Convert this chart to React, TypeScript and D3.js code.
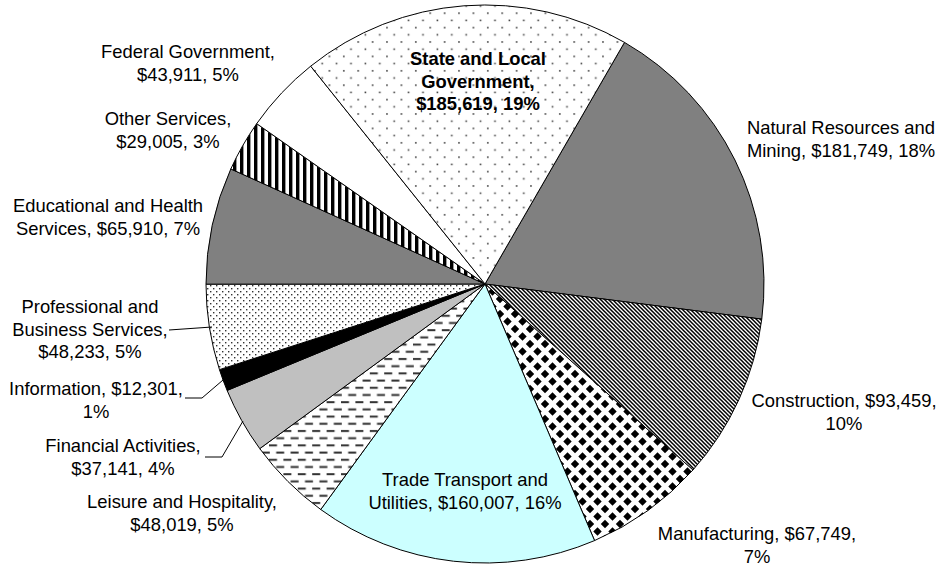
import React from 'react';
import * as d3 from 'd3';

const categories = [
  'Natural Resources and Mining',
  'Construction',
  'Manufacturing',
  'Trade Transport and Utilities',
  'Leisure and Hospitality',
  'Financial Activities',
  'Information',
  'Professional and Business Services',
  'Educational and Health Services',
  'Other Services',
  'Federal Government',
  'State and Local Government',
];
const values = [181749, 93459, 67749, 160007, 48019, 37141, 12301, 48233, 65910, 29005, 43911, 185619];
const percents = [18, 10, 7, 16, 5, 4, 1, 5, 7, 3, 5, 19];

const labelLines = [
  ['Natural Resources and', 'Mining, $181,749, 18%'],
  ['Construction, $93,459,', '10%'],
  ['Manufacturing, $67,749,', '7%'],
  ['Trade Transport and', 'Utilities, $160,007, 16%'],
  ['Leisure and Hospitality,', '$48,019, 5%'],
  ['Financial Activities,', '$37,141, 4%'],
  ['Information, $12,301,', '1%'],
  ['Professional and', 'Business Services,', '$48,233, 5%'],
  ['Educational and Health', 'Services, $65,910, 7%'],
  ['Other Services,', '$29,005, 3%'],
  ['Federal Government,', '$43,911, 5%'],
  ['State and Local', 'Government,', '$185,619, 19%'],
];

// layout (not data)
const W = 941;
const H = 567;
const CX = 485;
const CY = 284;
const R = 279;
const START = Math.PI / 6;
const FONT = 18.4;
const LINE = 22.6;
const labelPos: [number, number][] = [
  [841, 134],
  [844, 407],
  [757, 540],
  [465, 486],
  [182, 508],
  [123, 452],
  [96, 395],
  [90, 313],
  [108, 212],
  [168, 125],
  [188, 58],
  [478, 65],
];
const leaders: ([number, number][] | null)[] = [
  null, null, null, null, null,
  [[205, 457], [222, 457], [243, 421]],
  [[185, 398], [202, 398], [223, 380]],
  [[169, 330], [212, 327]],
  null, null, null, null,
];
const fills = [
  '#808080',
  'url(#pDiag)',
  'url(#pDiamond)',
  '#CCFFFF',
  'url(#pDash)',
  '#C0C0C0',
  '#000000',
  'url(#pDots20)',
  '#808080',
  'url(#pVert)',
  '#FFFFFF',
  'url(#pDots5)',
];

function diamond(cx: number, cy: number, r: number) {
  return `M${cx},${cy - r} L${cx + r},${cy} L${cx},${cy + r} L${cx - r},${cy} Z`;
}

export default function App() {
  const pie = d3
    .pie<number>()
    .sort(null)
    .value((d) => d)
    .startAngle(START)
    .endAngle(START + 2 * Math.PI);
  const arcs = pie(values);
  const arc = d3.arc<d3.PieArcDatum<number>>().innerRadius(0).outerRadius(R);
  const line = d3.line();
  const P = 15;
  const dr = 4.2;
  const diamondPath = [
    diamond(P / 2, P / 2, dr),
    diamond(0, 0, dr),
    diamond(P, 0, dr),
    diamond(0, P, dr),
    diamond(P, P, dr),
  ].join(' ');

  return (
    <svg
      width={W}
      height={H}
      style={{ position: 'absolute', left: 0, top: 0, background: '#fff' }}
      fontFamily="'Liberation Sans', Arial, sans-serif"
    >
      <defs>
        <pattern id="pDiag" patternUnits="userSpaceOnUse" width={4} height={4}>
          <rect width={4} height={4} fill="#fff" />
          <path d="M-1,-1 L5,5 M-1,3 L1,5 M3,-1 L5,1" stroke="#000" strokeWidth={1.5} />
        </pattern>
        <pattern id="pDiamond" patternUnits="userSpaceOnUse" width={P} height={P}>
          <rect width={P} height={P} fill="#fff" />
          <path d={diamondPath} fill="#000" />
        </pattern>
        <pattern id="pDash" patternUnits="userSpaceOnUse" width={14.4} height={14.4}>
          <rect width={14.4} height={14.4} fill="#fff" />
          <rect x={0} y={2} width={8} height={2} fill="#333" />
          <rect x={7.2} y={9.2} width={8} height={2} fill="#333" />
          <rect x={-7.2} y={9.2} width={8} height={2} fill="#333" />
        </pattern>
        <pattern id="pDots20" patternUnits="userSpaceOnUse" width={6} height={6}>
          <rect width={6} height={6} fill="#fff" />
          <rect x={1} y={1} width={1.4} height={1.4} fill="#333" />
          <rect x={4} y={4} width={1.4} height={1.4} fill="#333" />
        </pattern>
        <pattern id="pVert" patternUnits="userSpaceOnUse" width={7} height={7}>
          <rect width={7} height={7} fill="#fff" />
          <rect x={0} y={0} width={3.4} height={7} fill="#000" />
        </pattern>
        <pattern id="pDots5" patternUnits="userSpaceOnUse" width={14.4} height={14.4}>
          <rect width={14.4} height={14.4} fill="#fff" />
          <rect x={2} y={2} width={1.6} height={1.6} fill="#444" />
          <rect x={9.2} y={9.2} width={1.6} height={1.6} fill="#444" />
        </pattern>
      </defs>
      <g transform={`translate(${CX},${CY})`}>
        {arcs.map((a, i) => (
          <path key={categories[i]} d={arc(a) || ''} fill={fills[i]} stroke="#000" strokeWidth={1} />
        ))}
      </g>
      {leaders.map((pts, i) =>
        pts ? <path key={'l' + i} d={line(pts) || ''} fill="none" stroke="#000" strokeWidth={1} /> : null
      )}
      {labelLines.map((lines, i) => (
        <text
          key={'t' + i}
          x={labelPos[i][0]}
          y={labelPos[i][1]}
          textAnchor="middle"
          fontSize={FONT}
          fontWeight={i === 11 ? 'bold' : 'normal'}
          fill="#000"
          data-value={values[i]}
          data-pct={percents[i]}
        >
          {lines.map((l, j) => (
            <tspan key={j} x={labelPos[i][0]} y={labelPos[i][1] + j * LINE}>
              {l}
            </tspan>
          ))}
        </text>
      ))}
    </svg>
  );
}
